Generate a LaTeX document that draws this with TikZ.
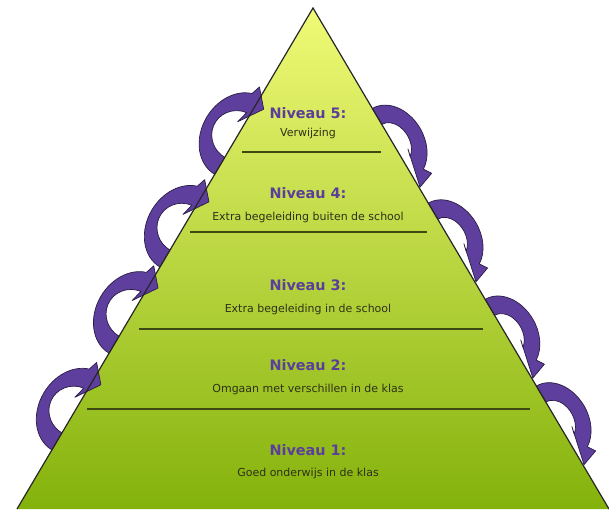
\documentclass[tikz,border=0pt]{standalone}
\usepackage{fontspec}
\setmainfont{DejaVu Sans}
\usepackage{tikz}
\usetikzlibrary{positioning}

\definecolor{paars}{HTML}{5B3E9C}
\definecolor{pijlpaars}{HTML}{5E3F9E}
\definecolor{pijlrand}{HTML}{2A1D44}
\definecolor{lijn}{HTML}{3C4A12}
\definecolor{tekst}{HTML}{2F3117}
\definecolor{geeltop}{HTML}{F0FA76}
\definecolor{groenmid}{HTML}{C4DF4C}
\definecolor{groenvoet}{HTML}{84B20C}

% gebogen pijl links: staart op de rand, kop wijst de piramide in
\newcommand{\pijllinks}[1]{%
  \begin{scope}[shift={(#1)},rotate=59.4]
    \filldraw[pijl] (-7,0) arc[start angle=180,end angle=14.5,x radius=45,y radius=36]
      -- (91,6) -- (74,-9) -- (50,7) -- (62.4,4)
      arc[start angle=8.85,end angle=180,x radius=25,y radius=26] -- cycle;
  \end{scope}}
% gebogen pijl rechts: kop wijst langs de rand omlaag
\newcommand{\pijlrechts}[1]{%
  \begin{scope}[shift={(#1)},rotate=-59.4]
    \filldraw[pijl] (-9,0) arc[start angle=180,end angle=24.8,x radius=41,y radius=31]
      -- (77,18) -- (83,1) -- (44,10) -- (51.7,8)
      arc[start angle=29,end angle=180,x radius=22.5,y radius=16.5] -- cycle;
  \end{scope}}

\begin{document}
\begin{tikzpicture}[x=1pt,y=1pt,node distance=13pt,
    niveau/.style={font=\bfseries\fontsize{14.4}{16}\selectfont,text=paars,
                   inner sep=0pt,text height=10.5pt,text depth=0pt,anchor=base},
    uitleg/.style={font=\fontsize{11}{13}\selectfont,text=tekst,
                   inner sep=0pt,text height=8pt,text depth=2.5pt},
    scheiding/.style={draw=lijn,line width=1.5pt},
    pijl/.style={fill=pijlpaars,draw=pijlrand,line width=0.7pt,line join=round}]
  \useasboundingbox (0,0) rectangle (609,511);

  \coordinate (L) at (17,2);
  \coordinate (T) at (313,503);
  \coordinate (R) at (609,2);

  % piramide
  \shade[top color=geeltop,middle color=groenmid,bottom color=groenvoet]
    (L) -- (T) -- (R) -- cycle;

  % plekken van de pijlen langs de randen
  \path (L) -- (T) coordinate[pos=0.130] (l1) coordinate[pos=0.323] (l2)
                   coordinate[pos=0.495] (l3) coordinate[pos=0.680] (l4);
  \path (T) -- (R) coordinate[pos=0.216] (r1) coordinate[pos=0.405] (r2)
                   coordinate[pos=0.597] (r3) coordinate[pos=0.770] (r4);

  \pijllinks{l1}
  \pijllinks{l2}
  \pijllinks{l3}
  \pijllinks{l4}
  \pijlrechts{r1}
  \pijlrechts{r2}
  \pijlrechts{r3}
  \pijlrechts{r4}

  \draw[line width=1.2pt,black!85] (L) -- (T) -- (R);

  % scheidingslijnen
  \draw[scheiding] (242,359) -- (381,359);
  \draw[scheiding] (190,279) -- (427,279);
  \draw[scheiding] (139,182) -- (483,182);
  \draw[scheiding] (87,102) -- (530,102);

  \node[niveau] (niv5) at (308,392) {Niveau 5:};
  \node[uitleg] (uit5) [below=9pt of niv5] {Verwijzing};
  \node[niveau] (niv4) at (308,312) {Niveau 4:};
  \node[uitleg] (uit4) [below=of niv4] {Extra begeleiding buiten de school};
  \node[niveau] (niv3) at (308,220) {Niveau 3:};
  \node[uitleg] (uit3) [below=of niv3] {Extra begeleiding in de school};
  \node[niveau] (niv2) at (308,140) {Niveau 2:};
  \node[uitleg] (uit2) [below=of niv2] {Omgaan met verschillen in de klas};
  \node[niveau] (niv1) at (308,56) {Niveau 1:};
  \node[uitleg] (uit1) [below=of niv1] {Goed onderwijs in de klas};
\end{tikzpicture}
\end{document}
